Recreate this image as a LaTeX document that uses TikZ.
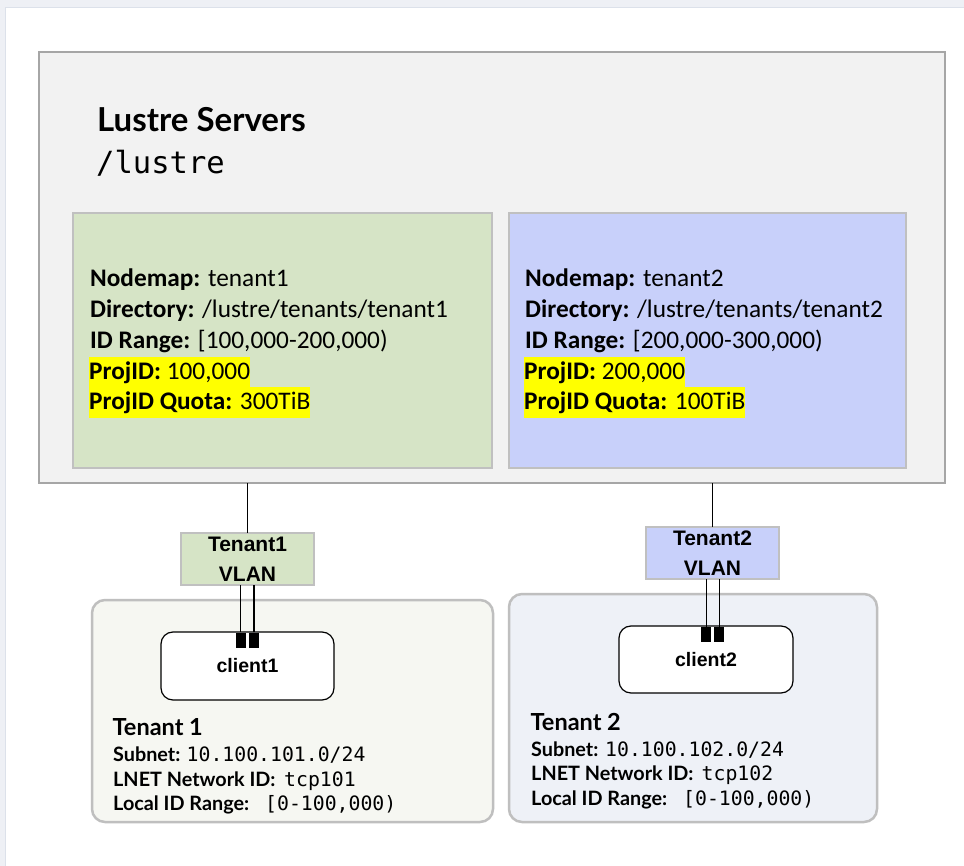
\documentclass[tikz,border=0pt]{standalone}
\usepackage{fontspec}
\setmainfont{Carlito}
\newfontfamily\grot{Lato}
\newfontfamily\arialb{Liberation Sans}
\setmonofont{DejaVu Sans Mono}
\definecolor{pagebg}{HTML}{EEF0F5}
\definecolor{pageline}{HTML}{DCE1EA}
\definecolor{srvfill}{HTML}{F2F2F2}
\definecolor{srvline}{HTML}{A6A6A6}
\definecolor{grnfill}{RGB}{214,228,198}
\definecolor{blufill}{RGB}{200,208,250}
\definecolor{boxline}{HTML}{C0C0C0}
\definecolor{t1fill}{HTML}{F6F7F2}
\definecolor{t2fill}{HTML}{EEF1F7}
\definecolor{tline}{HTML}{BFBFBF}
\definecolor{hlyellow}{HTML}{FFFF00}
\tikzset{
  box/.style={draw, rectangle, inner sep=0pt, outer sep=0pt},
  srv/.style={box, fill=srvfill, draw=srvline, line width=1.5pt},
  nm/.style={box, draw=boxline, line width=1.2pt},
  vlanbox/.style={box, draw=boxline, line width=1.2pt, align=center,
    font=\arialb\bfseries\fontsize{21}{30}\selectfont},
  tenbox/.style={box, draw=tline, line width=2.5pt, rounded corners=13pt},
  clientbox/.style={box, draw=black, fill=white, line width=1.2pt, rounded corners=12pt,
    font=\arialb\bfseries\fontsize{19.5}{22}\selectfont},
  port/.style={rectangle, fill=black, draw=none, inner sep=0pt, minimum width=9.5pt, minimum height=15pt},
  info/.style={anchor=base west, inner sep=0pt, font=\fontsize{25.3}{30}\selectfont},
  hl/.style={info, fill=hlyellow, text height=22.5pt, text depth=8pt},
  tlab/.style={anchor=base west, inner sep=0pt, font=\grot\bfseries\fontsize{19.8}{22}\selectfont},
  tval/.style={anchor=base west, inner sep=0pt, font=\ttfamily\fontsize{19.8}{22}\selectfont},
  thead/.style={anchor=base west, inner sep=0pt, font=\grot\bfseries\fontsize{23.5}{26}\selectfont},
  conn/.style={draw=black, line width=1.1pt},
}
\begin{document}
\begin{tikzpicture}[x=1pt,y=-1pt]
\useasboundingbox (0,0) rectangle (964,866);
% page frame
\fill[pagebg] (0,0) rectangle (964,866);
\filldraw[fill=white, draw=pageline, line width=1pt] (5.5,7.5) rectangle (970,870);

% Lustre servers
\node[srv, minimum width=906pt, minimum height=431pt] (lustre) at (492,267.5) {};
\node[anchor=base west, inner sep=0pt, font=\grot\bfseries\fontsize{33}{35}\selectfont] (ltitle) at (97,132) {Lustre Servers};
\node[anchor=base west, inner sep=0pt, font=\ttfamily\fontsize{30.5}{32}\selectfont] (lpath) at (96,174) {/lustre};

% nodemap boxes
\node[nm, fill=grnfill, minimum width=419pt, minimum height=255pt] (nm1) at (282.5,340.5) {};
\node[nm, fill=blufill, minimum width=397pt, minimum height=255pt] (nm2) at (707.5,340.5) {};

\node[info] (g1) at (90,287) {\textbf{Nodemap:} tenant1};
\node[info] (g2) at (90,317.7) {\textbf{Directory:} /lustre/tenants/tenant1};
\node[info] (g3) at (90,348.4) {\textbf{ID Range:} [100,000-200,000)};
\node[hl] (g4) at (89,379.1) {\textbf{ProjID:} 100,000};
\node[hl] (g5) at (89,409.8) {\textbf{ProjID Quota:} 300TiB};

\node[info] (b1) at (525,287) {\textbf{Nodemap:} tenant2};
\node[info] (b2) at (525,317.7) {\textbf{Directory:} /lustre/tenants/tenant2};
\node[info] (b3) at (525,348.4) {\textbf{ID Range:} [200,000-300,000)};
\node[hl] (b4) at (524,379.1) {\textbf{ProjID:} 200,000};
\node[hl] (b5) at (524,409.8) {\textbf{ProjID Quota:} 100TiB};

% tenant boxes
\node[tenbox, fill=t1fill, minimum width=401pt, minimum height=222pt] (t1) at (292.5,711) {};
\node[tenbox, fill=t2fill, minimum width=368pt, minimum height=228pt] (t2) at (693,708) {};

% VLAN boxes
\node[vlanbox, fill=grnfill, minimum width=133pt, minimum height=52pt] (v1) at (247.5,559) {Tenant1\\VLAN};
\node[vlanbox, fill=blufill, minimum width=133pt, minimum height=52pt] (v2) at (712.5,553) {Tenant2\\VLAN};

% clients
\node[clientbox, minimum width=173pt, minimum height=68pt] (c1) at (247.5,666) {client1};
\node[clientbox, minimum width=174pt, minimum height=67pt] (c2) at (706,659.5) {client2};

% ports
\node[port] (p1a) at (240.8,640) {};
\node[port] (p1b) at (254,640) {};
\node[port] (p2a) at (706.2,634.5) {};
\node[port] (p2b) at (719.2,634.5) {};

% connectors
\draw[conn] (v1.north) -- (v1.north |- lustre.south);
\draw[conn] (v2.north) -- (v2.north |- lustre.south);
\draw[conn] (p1a.north) -- (p1a.north |- v1.south);
\draw[conn] (p1b.north) -- (p1b.north |- v1.south);
\draw[conn] (p2a.north) -- (p2a.north |- v2.south);
\draw[conn] (p2b.north) -- (p2b.north |- v2.south);

% tenant 1 text
\node[thead] (t1h) at (112.5,735) {Tenant 1};
\node[tlab] (t1a) at (113,761.5) {Subnet:};
\node[tval] (t1av) at (186.5,761.5) {10.100.101.0/24};
\node[tlab] (t1b) at (113,786) {LNET Network ID:};
\node[tval] (t1bv) at (284,786) {tcp101};
\node[tlab] (t1c) at (113,810) {Local ID Range:};
\node[tval] (t1cv) at (265,810) {[0-100,000)};

% tenant 2 text
\node[thead] (t2h) at (530.5,730) {Tenant 2};
\node[tlab] (t2a) at (531,756.5) {Subnet:};
\node[tval] (t2av) at (605,756.5) {10.100.102.0/24};
\node[tlab] (t2b) at (531,780.5) {LNET Network ID:};
\node[tval] (t2bv) at (701.5,780.5) {tcp102};
\node[tlab] (t2c) at (531,805) {Local ID Range:};
\node[tval] (t2cv) at (683,805) {[0-100,000)};
\end{tikzpicture}
\end{document}
